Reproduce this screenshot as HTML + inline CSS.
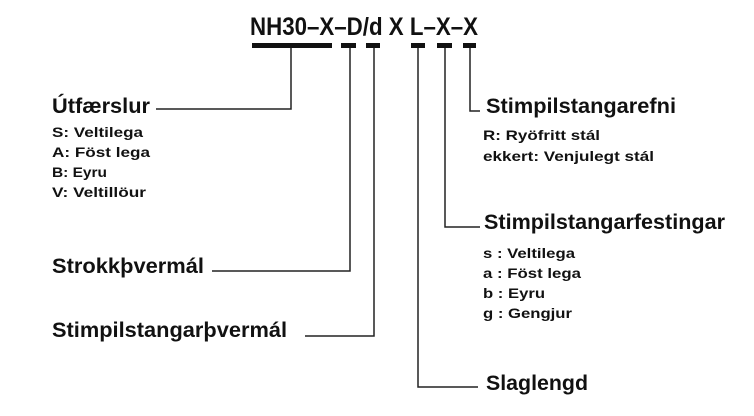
<!DOCTYPE html>
<html><head><meta charset="utf-8"><style>
html,body{margin:0;padding:0;background:#fff;}
svg{display:block;}
text{font-family:"Liberation Sans",Arial,sans-serif;font-weight:bold;fill:#111;}
</style></head><body>
<svg width="754" height="416" viewBox="0 0 754 416" xmlns="http://www.w3.org/2000/svg">
<text x="250" y="35" font-size="25" textLength="228" lengthAdjust="spacingAndGlyphs">NH30–X–D/d X L–X–X</text>
<g fill="#111">
<rect x="252" y="43" width="80" height="5"/>
<rect x="341" y="43" width="15" height="5"/>
<rect x="366" y="43" width="14" height="5"/>
<rect x="411" y="43" width="14" height="5"/>
<rect x="437" y="43" width="15" height="5"/>
<rect x="463" y="43" width="13" height="5"/>
</g>
<g stroke="#222" stroke-width="1.5" fill="none">
<polyline points="156,109 291,109 291,48"/>
<polyline points="212,271 350,271 350,48"/>
<polyline points="305,336 374,336 374,48"/>
<polyline points="478,387 418,387 418,48"/>
<polyline points="480,227 445,227 445,48"/>
<polyline points="480,111 470,111 470,48"/>
</g>
<text x="52" y="113" font-size="21" textLength="98" lengthAdjust="spacingAndGlyphs">Útfærslur</text>
<g font-size="14">
<text x="52" y="137" textLength="91" lengthAdjust="spacingAndGlyphs">S: Veltilega</text>
<text x="52" y="157" textLength="98" lengthAdjust="spacingAndGlyphs">A: Föst lega</text>
<text x="52" y="177" textLength="55" lengthAdjust="spacingAndGlyphs">B: Eyru</text>
<text x="52" y="197" textLength="94" lengthAdjust="spacingAndGlyphs">V: Veltillöur</text>
</g>
<text x="52" y="273" font-size="21" textLength="152" lengthAdjust="spacingAndGlyphs">Strokkþvermál</text>
<text x="52" y="337" font-size="21" textLength="235" lengthAdjust="spacingAndGlyphs">Stimpilstangarþvermál</text>
<text x="486" y="113" font-size="21" textLength="190" lengthAdjust="spacingAndGlyphs">Stimpilstangarefni</text>
<g font-size="14">
<text x="483" y="140" textLength="117" lengthAdjust="spacingAndGlyphs">R: Ryöfritt stál</text>
<text x="483" y="161" textLength="171" lengthAdjust="spacingAndGlyphs">ekkert: Venjulegt stál</text>
</g>
<text x="484" y="229" font-size="21" textLength="241" lengthAdjust="spacingAndGlyphs">Stimpilstangarfestingar</text>
<g font-size="14">
<text x="483" y="258" textLength="92" lengthAdjust="spacingAndGlyphs">s : Veltilega</text>
<text x="483" y="278" textLength="98" lengthAdjust="spacingAndGlyphs">a : Föst lega</text>
<text x="483" y="298" textLength="62" lengthAdjust="spacingAndGlyphs">b : Eyru</text>
<text x="483" y="318" textLength="89" lengthAdjust="spacingAndGlyphs">g : Gengjur</text>
</g>
<text x="486" y="390" font-size="21" textLength="102" lengthAdjust="spacingAndGlyphs">Slaglengd</text>
</svg>
</body></html>
